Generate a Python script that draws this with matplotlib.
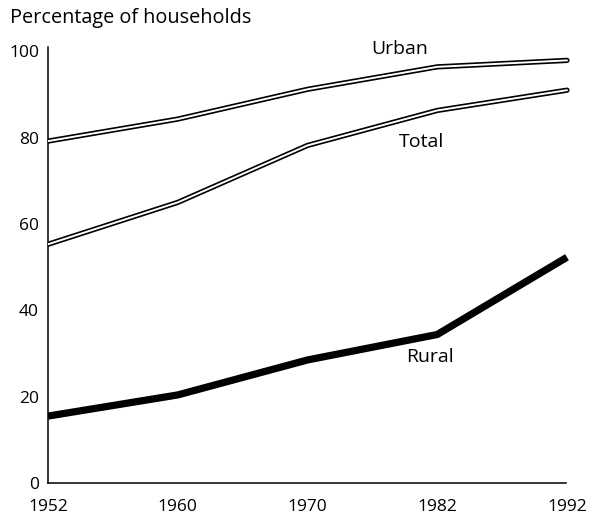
import numpy as np
import matplotlib.pyplot as plt

plt.rcParams['font.family'] = ['Open Sans', 'DejaVu Sans']

years = ['1952', '1960', '1970', '1982', '1992']
urban = [79.2, 84.3, 91.2, 96.4, 97.9]
total = [55.3, 65.0, 78.2, 86.3, 91.0]
rural = [15.5, 20.4, 28.5, 34.4, 52.3]

x = np.arange(len(years))

fig = plt.figure(figsize=(5.89, 5.14), dpi=100)
# a bit of room past the last year so the round line ends are not clipped
unit = 519 / 4
ax = fig.add_axes([48 / 589, 1 - 483 / 514, 4.06 * unit / 589, 436 / 514])

# double (outlined) lines for urban and total
for vals in (urban, total):
    ax.plot(x, vals, color='black', lw=3.8, solid_capstyle='round',
            solid_joinstyle='round', zorder=3)
    ax.plot(x, vals, color='white', lw=1.4, solid_capstyle='round',
            solid_joinstyle='round', zorder=4)

ax.plot(x, rural, color='black', lw=5.2, solid_capstyle='butt',
        solid_joinstyle='miter', zorder=3)

ax.text(2.71, 100.5, 'Urban', fontsize=14, ha='center', va='center')
ax.text(2.88, 79.0, 'Total', fontsize=14, ha='center', va='center')
ax.text(2.94, 29.2, 'Rural', fontsize=14, ha='center', va='center')

ax.set_xlim(0, 4.06)
ax.set_ylim(0, 101)
ax.set_xticks(x)
ax.set_xticklabels(years)
ax.set_yticks(np.arange(0, 101, 20))
ax.tick_params(length=0, labelsize=12.5)
ax.tick_params(axis='x', pad=11.5)
ax.tick_params(axis='y', pad=6.5)

for s in ('top', 'right'):
    ax.spines[s].set_visible(False)
for s in ('left', 'bottom'):
    ax.spines[s].set_linewidth(1.1)
ax.spines['bottom'].set_bounds(0, 3.995)

fig.text(10 / 589, 1 - 18 / 514, 'Percentage of households', fontsize=14.3,
         ha='left', va='center')

fig.savefig('out.png', dpi=100)
